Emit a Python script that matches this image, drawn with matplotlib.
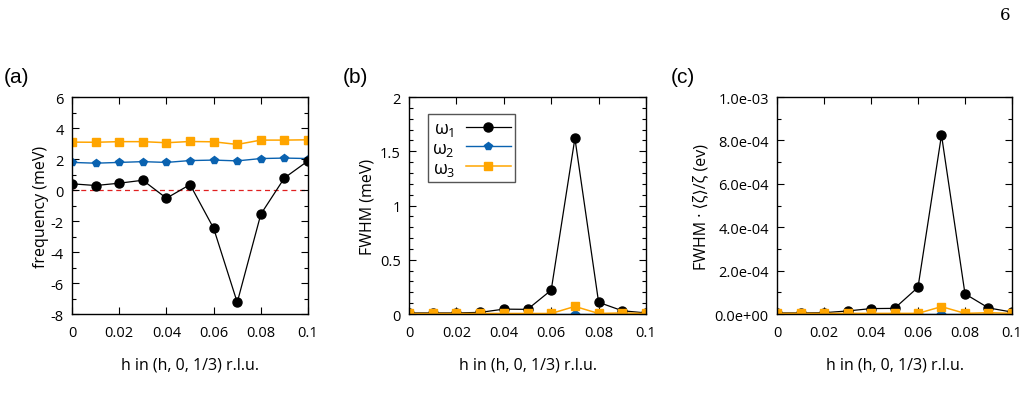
import numpy as np
import matplotlib
matplotlib.use("Agg")
import matplotlib.pyplot as plt
from matplotlib.ticker import MultipleLocator, FuncFormatter

plt.rcParams['font.family'] = ['Open Sans', 'DejaVu Sans']
plt.rcParams['axes.unicode_minus'] = False
plt.rcParams['mathtext.fontset'] = 'custom'
plt.rcParams['mathtext.rm'] = 'Open Sans'
plt.rcParams['mathtext.it'] = 'Open Sans'

# momentum transfer h (r.l.u.)
h = [0, 0.01, 0.02, 0.03, 0.04, 0.05, 0.06, 0.07, 0.08, 0.09, 0.1]

# (a) frequency (meV)
freq_w1 = [0.40, 0.29, 0.44, 0.63, -0.53, 0.35, -2.47, -7.25, -1.56, 0.78, 1.88]
freq_w2 = [1.78, 1.73, 1.78, 1.83, 1.78, 1.90, 1.93, 1.88, 2.03, 2.06, 2.03]
freq_w3 = [3.09, 3.08, 3.12, 3.12, 3.05, 3.13, 3.11, 2.94, 3.22, 3.22, 3.24]

# (b) FWHM (meV)
fwhm_w1 = [0.01, 0.01, 0.01, 0.015, 0.045, 0.043, 0.22, 1.62, 0.108, 0.03, 0.01]
fwhm_w2 = [0.0, 0.0, 0.0, 0.0, 0.0, 0.0, 0.0, 0.0, 0.0, 0.0, 0.0]
fwhm_w3 = [0.005, 0.005, 0.005, 0.005, 0.005, 0.005, 0.005, 0.07, 0.005, 0.01, 0.005]

# (c) FWHM * <zeta>/zeta (ev)
scl_w1 = [0.5e-5, 0.5e-5, 0.6e-5, 1.4e-5, 2.5e-5, 2.6e-5, 1.23e-4, 8.25e-4, 9.3e-5, 2.8e-5, 0.9e-5]
scl_w2 = [0.0, 0.0, 0.0, 0.0, 0.0, 0.0, 0.0, 0.0, 0.0, 0.0, 0.0]
scl_w3 = [0.3e-5, 0.3e-5, 0.3e-5, 0.3e-5, 0.3e-5, 0.3e-5, 0.3e-5, 3.4e-5, 0.3e-5, 0.6e-5, 0.3e-5]

xticks = [0, 0.02, 0.04, 0.06, 0.08, 0.1]
xticklabels = ['0', '0.02', '0.04', '0.06', '0.08', '0.1']

c1, c2, c3 = 'black', '#0a62b0', '#ffa500'

fig = plt.figure(figsize=(10.22, 4.06), dpi=100)
ax_a = fig.add_axes([0.0705, 0.2241, 0.2309, 0.5345])
ax_b = fig.add_axes([0.4002, 0.2241, 0.2319, 0.5345])
ax_c = fig.add_axes([0.7603, 0.2241, 0.2299, 0.5345])


def draw(ax, y1, y2, y3):
    l2, = ax.plot(h, y2, color=c2, marker='p', ms=5.5, lw=1.0, label=r'$\omega_2$')
    l1, = ax.plot(h, y1, color=c1, marker='o', ms=6.5, lw=0.9, label=r'$\omega_1$')
    l3, = ax.plot(h, y3, color=c3, marker='s', ms=6.3, lw=1.1, label=r'$\omega_3$')
    return [l1, l2, l3]


def style(ax, ylo, yhi, major, minor, ylabel, lpad):
    ax.set_xlim(0, 0.1)
    ax.set_ylim(ylo, yhi)
    ax.set_xticks(xticks)
    ax.set_xticklabels(xticklabels)
    ax.yaxis.set_major_locator(MultipleLocator(major))
    ax.yaxis.set_minor_locator(MultipleLocator(minor))
    ax.tick_params(which='both', direction='in', top=True, right=True,
                   labelsize=10.5, width=0.8)
    ax.tick_params(which='major', length=5)
    ax.tick_params(which='minor', length=3)
    ax.tick_params(axis='x', pad=8)
    ax.tick_params(axis='y', pad=6)
    for s in ax.spines.values():
        s.set_linewidth(1.0)
    ax.set_ylabel(ylabel, fontsize=11.5, labelpad=lpad)
    ax.set_xlabel('h in (h, 0, 1/3) r.l.u.', fontsize=11.5, labelpad=12)


# (a)
ax_a.axhline(0, color='#e02020', lw=0.9, ls=(0, (4, 3)), zorder=1)
draw(ax_a, freq_w1, freq_w2, freq_w3)
style(ax_a, -8, 6, 2, 1, 'frequency (meV)', 1)
ax_a.yaxis.set_major_formatter(FuncFormatter(lambda v, p: '%d' % round(v)))

# (b)
lines = draw(ax_b, fwhm_w1, fwhm_w2, fwhm_w3)
style(ax_b, 0, 2, 0.5, 0.1, 'FWHM (meV)', 3)
ax_b.yaxis.set_major_formatter(FuncFormatter(lambda v, p: '%g' % v))
leg = ax_b.legend(handles=lines, loc='upper left', bbox_to_anchor=(0.08, 0.92),
                  markerfirst=False, fancybox=False, framealpha=1, fontsize=13,
                  handlelength=2.5, borderpad=0.25, labelspacing=0.05,
                  handletextpad=0.6, borderaxespad=0)
leg.get_frame().set_edgecolor('#555555')
leg.get_frame().set_linewidth(1.0)

# (c)
draw(ax_c, scl_w1, scl_w2, scl_w3)
style(ax_c, 0, 1e-3, 2e-4, 1e-4, 'FWHM · ⟨ζ⟩/ζ (ev)', 4)
ax_c.yaxis.set_major_formatter(FuncFormatter(lambda v, p: '%.1e' % v))
ax_c.yaxis.get_offset_text().set_visible(False)

# panel letters and page number
fig.text(0.004, 0.81, '(a)', fontsize=15, family='Liberation Sans', va='center')
fig.text(0.335, 0.81, '(b)', fontsize=15, family='Liberation Sans', va='center')
fig.text(0.656, 0.81, '(c)', fontsize=15, family='Liberation Sans', va='center')
fig.text(0.983, 0.963, '6', fontsize=12, family='DejaVu Serif', ha='center', va='center')

fig.savefig('out.png', dpi=100)
